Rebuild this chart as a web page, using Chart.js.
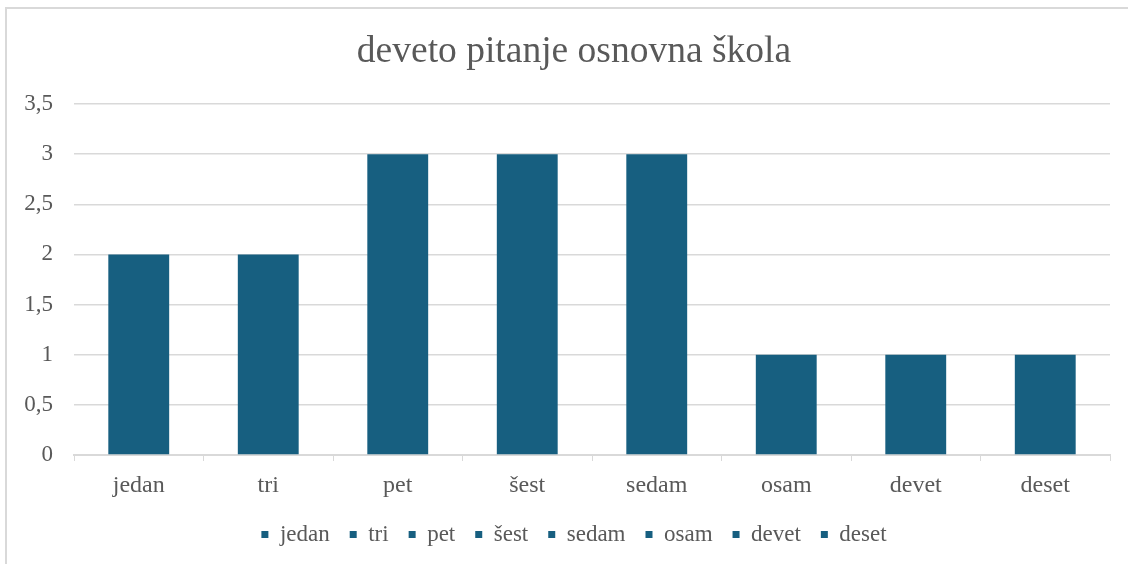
<!DOCTYPE html>
<html>
<head>
<meta charset="utf-8">
<script src="https://cdn.jsdelivr.net/npm/chart.js@4.4.0/dist/chart.umd.min.js"></script>
<style>
    html, body { margin: 0; padding: 0; background: #fff; overflow: hidden; }
    #wrap { position: relative; width: 1128px; height: 564px; }
    #frame { position: absolute; left: 5px; top: 7px; width: 1200px; height: 600px; border: 2px solid #d9d9d9; box-sizing: border-box; }
    canvas { position: absolute; left: 0; top: 0; }
</style>
</head>
<body>
<div id="wrap">
    <div id="frame"></div>
    <canvas id="grafikon" width="1128" height="564"></canvas>
</div>
<script>
const kategorije = ["jedan", "tri", "pet", "šest", "sedam", "osam", "devet", "deset"];
const vrijednosti = [2, 2, 3, 3, 3, 1, 1, 1];
const yOznake = [0, 0.5, 1, 1.5, 2, 2.5, 3, 3.5];

const boja = '#175f80';
const siva = '#595959';
const linija = '#d9d9d9';
const font = 'Liberation Serif, "Times New Roman", serif';

const data = {
    labels: kategorije,
    datasets: [{
        label: 'deveto pitanje osnovna škola',
        data: vrijednosti,
        backgroundColor: boja,
        categoryPercentage: 1,
        barPercentage: 0.47
    }]
};

const config = {
    type: 'bar',
    data: data,
    options: {
        responsive: false,
        animation: false,
        layout: { padding: { left: 20, right: 0, top: 8, bottom: 8 } },
        plugins: {
            title: {
                display: true,
                text: 'deveto pitanje osnovna škola',
                color: siva,
                font: { family: font, size: 37.5, weight: 'normal' },
                padding: { top: 22, bottom: 29 }
            },
            legend: {
                position: 'bottom',
                labels: {
                    color: siva,
                    font: { family: font, size: 23, lineHeight: 1 },
                    boxWidth: 7,
                    boxHeight: 7,
                    padding: 20,
                    generateLabels: function (chart) {
                        return kategorije.map(function (k) {
                            return { text: k, fillStyle: boja, strokeStyle: boja, lineWidth: 0, fontColor: siva };
                        });
                    }
                }
            },
            tooltip: { enabled: false }
        },
        scales: {
            x: {
                afterFit: function (s) { s.height -= 8; },
                grid: {
                    drawOnChartArea: false,
                    drawTicks: true,
                    tickLength: 6,
                    color: linija
                },
                border: { color: linija, width: 2 },
                ticks: {
                    color: siva,
                    font: { family: font, size: 24, lineHeight: 1 },
                    padding: 13
                }
            },
            y: {
                min: 0,
                max: 3.5,
                afterBuildTicks: function (s) {
                    s.ticks = yOznake.map(function (v) { return { value: v }; });
                },
                afterFit: function (s) { s.width = 54; },
                grid: { color: linija, lineWidth: 1.5, drawTicks: false },
                border: { display: false },
                ticks: {
                    color: siva,
                    font: { family: font, size: 23 },
                    padding: 21,
                    callback: function (v) { return String(v).replace('.', ','); }
                }
            },
            desno: {
                position: 'right',
                afterFit: function (s) { s.width = 18; },
                grid: { display: false },
                border: { display: false },
                ticks: { display: false }
            }
        }
    }
};

window.onload = function () {
    const ctx = document.getElementById('grafikon').getContext('2d');
    new Chart(ctx, config);
};
</script>
</body>
</html>
